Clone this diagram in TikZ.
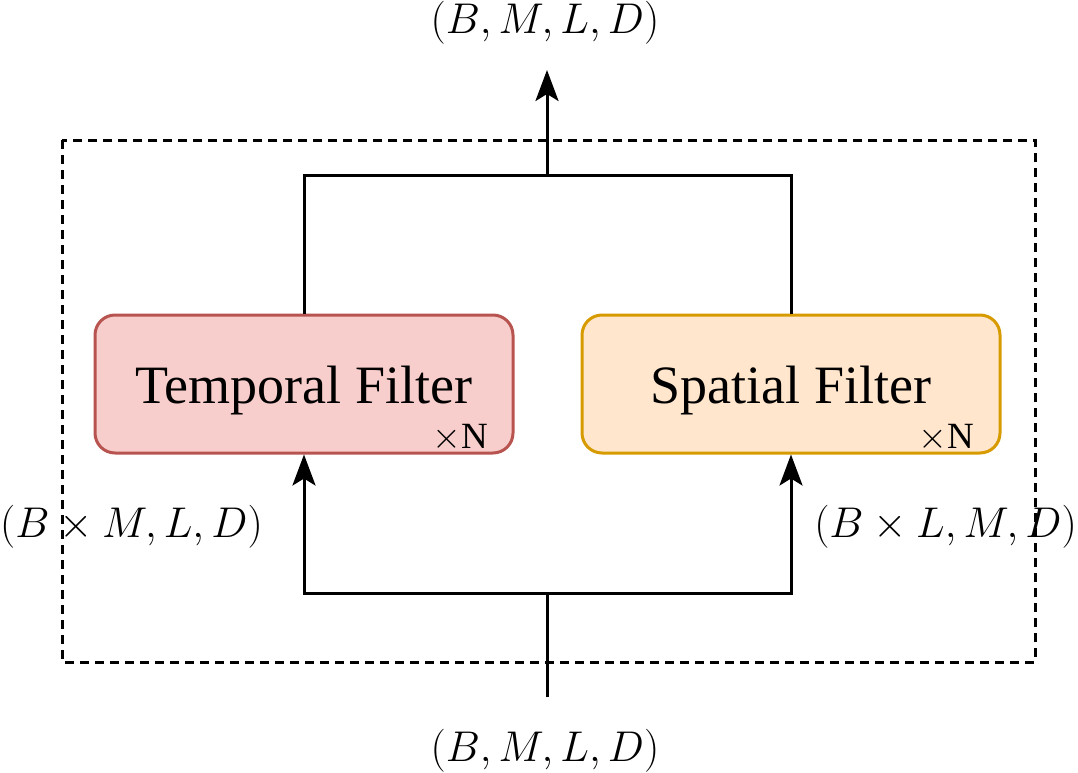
\documentclass[tikz,border=0pt]{standalone}
\usepackage{fix-cm}
\usepackage[no-math]{fontspec}
\setmainfont{Liberation Serif}
\usetikzlibrary{arrows.meta}
\definecolor{tfill}{HTML}{F8CECC}
\definecolor{tdraw}{HTML}{B85450}
\definecolor{sfill}{HTML}{FFE6CC}
\definecolor{sdraw}{HTML}{D79B00}
\tikzset{
  conn/.style={line width=3pt, black},
  arr/.style={conn, -{Stealth[length=31pt,width=23pt,inset=7pt]}},
  filterbox/.style={rectangle, rounded corners=20pt, line width=3pt, minimum width=418pt, minimum height=138pt, inner sep=0pt},
  boxtext/.style={font=\fontsize{54}{60}\selectfont, anchor=base, inner sep=0pt},
  reptext/.style={font=\fontsize{37}{44}\selectfont, anchor=base east, inner sep=0pt},
  dimlabel/.style={font=\fontsize{43}{50}\selectfont, inner sep=0pt},
  outer/.style={line width=3pt, dash pattern=on 9pt off 6pt}
}
\begin{document}
\begin{tikzpicture}[x=1pt,y=-1pt]
\useasboundingbox (0,0) rectangle (1078,773);
% dashed outer frame
\draw[outer] (62,140) rectangle (1035,662);
% filter boxes
\node[filterbox, fill=tfill, draw=tdraw] (tf) at (304,384) {};
\node[filterbox, fill=sfill, draw=sdraw] (sf) at (791,384) {};
\node[boxtext] (tftext) at (304,403) {Temporal Filter};
\node[boxtext] (sftext) at (791,403) {Spatial Filter};
\node[reptext] (tfrep) at (488,448) {$\times$N};
\node[reptext] (sfrep) at (974,448) {$\times$N};
% coordinates
\coordinate (bin) at (547,697);
\coordinate (bsplit) at (547,593);
\coordinate (tmerge) at (547,175);
\coordinate (out) at (547,70);
% connectors
\draw[conn] (bin) -- (bsplit);
\draw[arr] (bsplit) -| (tf.south);
\draw[arr] (bsplit) -| (sf.south);
\draw[conn] (tf.north) |- (tmerge) -| (sf.north);
\draw[arr] (tmerge) -- (out);
% labels
\node[dimlabel, anchor=base] (toplab) at (545,34) {$(B,M,L,D)$};
\node[dimlabel, anchor=base] (botlab) at (545,761) {$(B,M,L,D)$};
\node[dimlabel, anchor=base west] (leftlab) at (0,537) {$(B\times M,L,D)$};
\node[dimlabel, anchor=base east] (rightlab) at (1077,537) {$(B\times L,M,D)$};
\end{tikzpicture}
\end{document}
